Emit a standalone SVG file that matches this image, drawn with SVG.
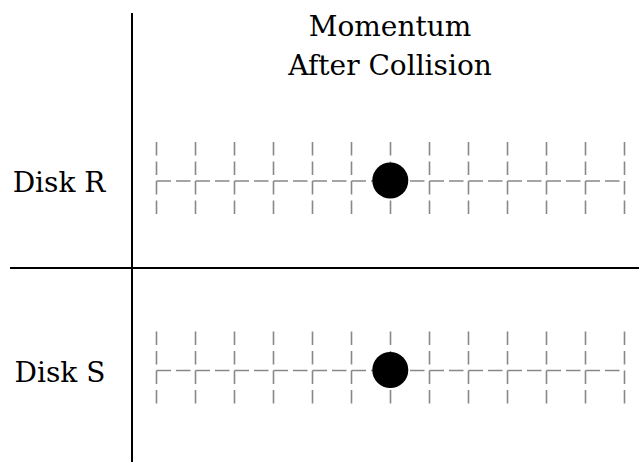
<svg xmlns="http://www.w3.org/2000/svg" width="639" height="462" viewBox="0 0 639 462">
<defs>
<style>
.lbl{font-family:"DejaVu Serif","Liberation Serif",serif;font-size:28px;fill:#000;text-anchor:middle}
.axis{stroke:#000;stroke-width:2;fill:none}
.grid{stroke:#888;stroke-width:1.6;fill:none;stroke-dasharray:13.5 6}
.hgrid{stroke:#888;stroke-width:1.6;fill:none;stroke-dasharray:14.5 5}
.disk{fill:#000}
</style>
<g id="gridrow">
<path class="grid" d="M156.5,142V181M195.5,142V181M234.5,142V181M273.5,142V181M312.5,142V181M351.5,142V181M390.5,142V181M429.5,142V181M468.5,142V181M507.5,142V181M546.5,142V181M585.5,142V181M624.5,142V181"/>
<path class="grid" d="M156.5,181V220M195.5,181V220M234.5,181V220M273.5,181V220M312.5,181V220M351.5,181V220M390.5,181V220M429.5,181V220M468.5,181V220M507.5,181V220M546.5,181V220M585.5,181V220M624.5,181V220"/>
<path class="hgrid" d="M156.5,181H624.5"/>
</g>
</defs>
<g id="axes">
<line class="axis" x1="132" y1="13" x2="132" y2="462"/>
<line class="axis" x1="10" y1="268" x2="639" y2="268"/>
</g>
<g id="title">
<text class="lbl" x="390" y="36">Momentum</text>
<text class="lbl" x="390" y="75">After Collision</text>
</g>
<g id="diskR">
<text class="lbl" x="59" y="192">Disk R</text>
<use href="#gridrow"/>
<circle class="disk" cx="390.3" cy="180.5" r="18"/>
</g>
<g id="diskS">
<text class="lbl" x="60" y="382">Disk S</text>
<use href="#gridrow" transform="translate(0,189.5)"/>
<circle class="disk" cx="390.3" cy="370" r="18"/>
</g>
</svg>
